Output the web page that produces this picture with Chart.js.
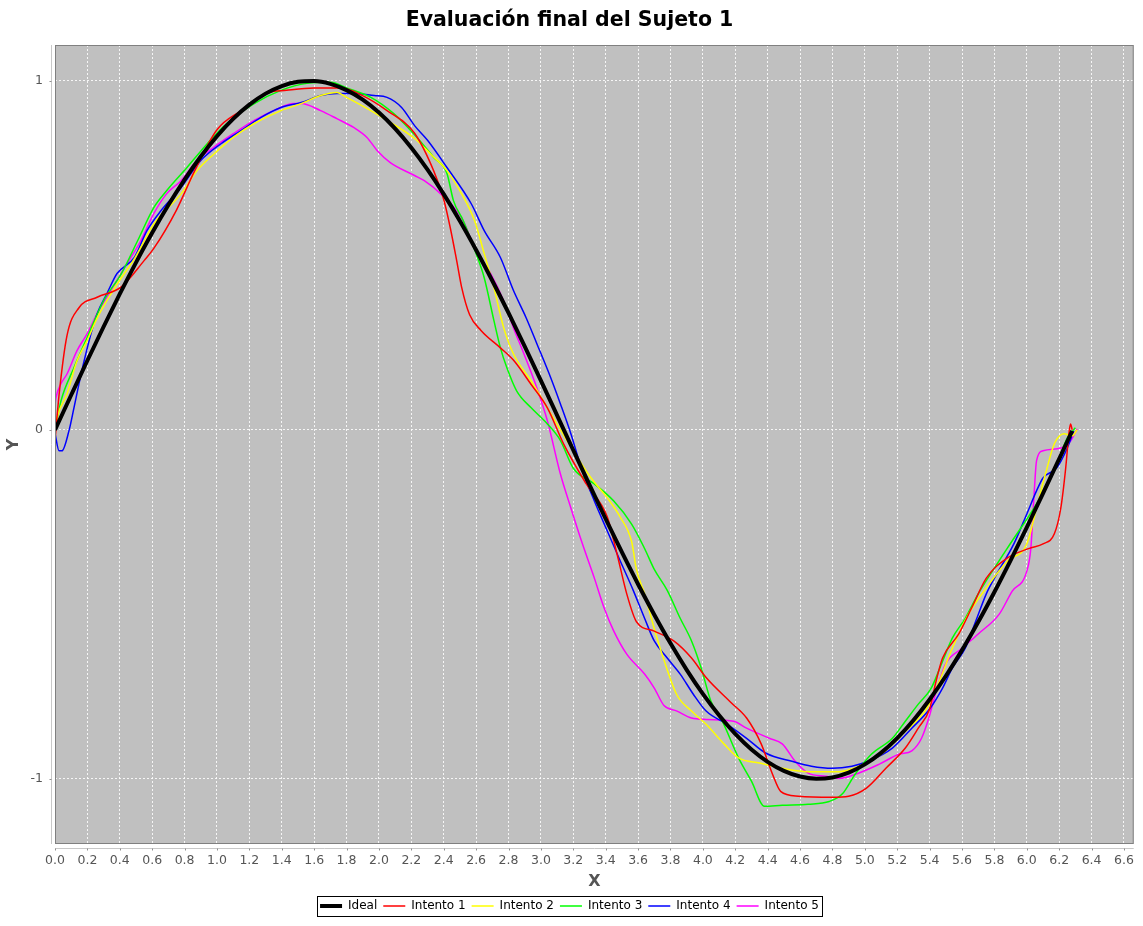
<!DOCTYPE html>
<html>
<head>
<meta charset="utf-8">
<title>Evaluación final del Sujeto 1</title>
<script src="https://cdn.jsdelivr.net/npm/chart.js@4.4.1/dist/chart.umd.min.js"></script>
<style>
  html, body { margin: 0; padding: 0; background: #fff; }
</style>
</head>
<body>
<canvas id="evaluacion" width="1143" height="926"></canvas>
<script>
// Curva ideal y los cinco intentos del sujeto, pares [x, y]
const ideal = [[0,0],[0.1,0.0998],[0.2,0.1987],[0.3,0.2955],[0.4,0.3894],[0.5,0.4794],[0.6,0.5646],[0.7,0.6442],[0.8,0.7174],[0.9,0.7833],[1.0,0.8415],[1.1,0.8912],[1.2,0.932],[1.3,0.9636],[1.4,0.9854],[1.5,0.9975],[1.6,0.9996],[1.7,0.9917],[1.8,0.9738],[1.9,0.9463],[2.0,0.9093],[2.1,0.8632],[2.2,0.8085],[2.3,0.7457],[2.4,0.6755],[2.5,0.5985],[2.6,0.5155],[2.7,0.4274],[2.8,0.335],[2.9,0.2392],[3.0,0.1411],[3.1,0.0416],[3.2,-0.0584],[3.3,-0.1577],[3.4,-0.2555],[3.5,-0.3508],[3.6,-0.4425],[3.7,-0.5298],[3.8,-0.6119],[3.9,-0.6878],[4.0,-0.7568],[4.1,-0.8183],[4.2,-0.8716],[4.3,-0.9162],[4.4,-0.9516],[4.5,-0.9775],[4.6,-0.9937],[4.7,-0.9999],[4.8,-0.9962],[4.9,-0.9825],[5.0,-0.9589],[5.1,-0.9258],[5.2,-0.8835],[5.3,-0.8323],[5.4,-0.7728],[5.5,-0.7055],[5.6,-0.6313],[5.7,-0.5507],[5.8,-0.4646],[5.9,-0.3739],[6.0,-0.2794],[6.1,-0.1822],[6.2,-0.0831],[6.28,-0.0032]];

const intento1 = [[0,-0.03],[0.025,0.10],[0.074,0.27],[0.148,0.35],[0.26,0.38],[0.41,0.41],[0.55,0.485],[0.61,0.52],[0.75,0.63],[0.86,0.74],[1.0,0.86],[1.15,0.915],[1.31,0.965],[1.43,0.973],[1.60,0.98],[1.77,0.98],[1.89,0.96],[2.05,0.915],[2.22,0.85],[2.34,0.74],[2.40,0.66],[2.44,0.58],[2.48,0.485],[2.51,0.41],[2.56,0.33],[2.63,0.285],[2.75,0.235],[2.83,0.20],[2.94,0.13],[3.04,0.063],[3.14,-0.04],[3.28,-0.155],[3.41,-0.25],[3.47,-0.356],[3.53,-0.47],[3.59,-0.55],[3.70,-0.577],[3.82,-0.605],[3.93,-0.654],[4.02,-0.71],[4.17,-0.78],[4.27,-0.826],[4.36,-0.90],[4.43,-0.987],[4.48,-1.036],[4.59,-1.05],[4.80,-1.053],[4.90,-1.05],[5.01,-1.027],[5.13,-0.97],[5.25,-0.912],[5.33,-0.855],[5.40,-0.80],[5.44,-0.72],[5.48,-0.654],[5.58,-0.585],[5.66,-0.51],[5.75,-0.425],[5.88,-0.367],[6.02,-0.339],[6.10,-0.327],[6.17,-0.298],[6.21,-0.224],[6.24,-0.11],[6.26,-0.01],[6.27,0.017],[6.28,0.0]];

const intento2 = [[0,0],[0.012,0.034],[0.074,0.103],[0.136,0.198],[0.198,0.255],[0.26,0.32],[0.346,0.39],[0.41,0.436],[0.49,0.49],[0.61,0.59],[0.78,0.677],[0.877,0.743],[0.98,0.79],[1.10,0.838],[1.23,0.878],[1.395,0.915],[1.52,0.935],[1.64,0.958],[1.74,0.967],[1.80,0.953],[1.95,0.915],[2.05,0.887],[2.22,0.835],[2.32,0.79],[2.42,0.743],[2.51,0.677],[2.59,0.60],[2.65,0.505],[2.71,0.407],[2.77,0.293],[2.83,0.218],[2.94,0.14],[3.04,0.063],[3.16,-0.03],[3.31,-0.138],[3.41,-0.195],[3.49,-0.25],[3.56,-0.32],[3.59,-0.40],[3.64,-0.47],[3.70,-0.57],[3.76,-0.66],[3.84,-0.76],[3.93,-0.806],[4.02,-0.844],[4.13,-0.90],[4.22,-0.94],[4.35,-0.955],[4.49,-0.97],[4.65,-0.98],[4.84,-0.98],[4.96,-0.965],[5.10,-0.93],[5.25,-0.864],[5.38,-0.80],[5.46,-0.72],[5.54,-0.626],[5.64,-0.528],[5.75,-0.453],[5.88,-0.376],[6.00,-0.327],[6.06,-0.224],[6.12,-0.118],[6.17,-0.04],[6.23,-0.011],[6.28,-0.017],[6.31,0.0]];

const intento3 = [[0,0],[0.037,0.083],[0.117,0.178],[0.198,0.264],[0.30,0.37],[0.41,0.448],[0.51,0.542],[0.61,0.637],[0.69,0.686],[0.815,0.752],[0.94,0.82],[1.06,0.878],[1.23,0.935],[1.395,0.973],[1.555,0.993],[1.70,0.996],[1.80,0.98],[1.95,0.953],[2.09,0.907],[2.22,0.846],[2.34,0.78],[2.42,0.735],[2.46,0.657],[2.52,0.60],[2.60,0.505],[2.65,0.436],[2.71,0.313],[2.75,0.235],[2.79,0.178],[2.85,0.112],[2.94,0.063],[3.04,0.017],[3.12,-0.03],[3.20,-0.11],[3.33,-0.155],[3.45,-0.204],[3.56,-0.27],[3.64,-0.34],[3.70,-0.40],[3.78,-0.46],[3.86,-0.54],[3.93,-0.605],[3.99,-0.683],[4.05,-0.778],[4.12,-0.835],[4.22,-0.94],[4.30,-1.007],[4.38,-1.079],[4.49,-1.076],[4.65,-1.073],[4.78,-1.065],[4.86,-1.044],[4.94,-0.987],[5.04,-0.93],[5.17,-0.884],[5.25,-0.835],[5.33,-0.786],[5.41,-0.74],[5.48,-0.663],[5.54,-0.597],[5.62,-0.54],[5.70,-0.47],[5.88,-0.339],[6.06,-0.212],[6.17,-0.118],[6.25,-0.023],[6.30,0.006]];

const intento4 = [[0,-0.01],[0.025,-0.06],[0.043,-0.06],[0.086,-0.003],[0.117,0.063],[0.148,0.132],[0.18,0.198],[0.222,0.275],[0.26,0.333],[0.32,0.39],[0.383,0.448],[0.49,0.494],[0.568,0.571],[0.654,0.628],[0.778,0.694],[0.90,0.772],[1.025,0.82],[1.15,0.858],[1.27,0.895],[1.395,0.924],[1.52,0.938],[1.64,0.958],[1.74,0.964],[1.85,0.964],[1.97,0.958],[2.05,0.953],[2.14,0.924],[2.22,0.872],[2.30,0.83],[2.42,0.752],[2.57,0.648],[2.65,0.571],[2.75,0.494],[2.83,0.40],[2.91,0.32],[2.975,0.247],[3.06,0.15],[3.12,0.075],[3.185,-0.011],[3.25,-0.11],[3.33,-0.204],[3.41,-0.29],[3.49,-0.376],[3.57,-0.46],[3.64,-0.54],[3.70,-0.605],[3.78,-0.654],[3.86,-0.70],[3.94,-0.757],[4.02,-0.806],[4.15,-0.844],[4.27,-0.884],[4.39,-0.927],[4.55,-0.95],[4.67,-0.964],[4.80,-0.97],[4.92,-0.964],[5.02,-0.95],[5.17,-0.912],[5.29,-0.855],[5.40,-0.80],[5.48,-0.74],[5.54,-0.683],[5.62,-0.626],[5.685,-0.548],[5.75,-0.47],[5.80,-0.425],[5.92,-0.327],[6.00,-0.241],[6.06,-0.175],[6.10,-0.138],[6.185,-0.109],[6.25,-0.052],[6.29,-0.003]];

const intento5 = [[0,0.07],[0.006,0.092],[0.037,0.132],[0.074,0.16],[0.136,0.227],[0.198,0.275],[0.26,0.333],[0.346,0.40],[0.444,0.476],[0.53,0.542],[0.61,0.62],[0.69,0.677],[0.778,0.714],[0.877,0.772],[0.98,0.81],[1.105,0.85],[1.23,0.887],[1.35,0.915],[1.475,0.935],[1.52,0.935],[1.64,0.915],[1.74,0.892],[1.846,0.866],[1.926,0.838],[1.99,0.80],[2.07,0.766],[2.22,0.729],[2.28,0.714],[2.38,0.677],[2.51,0.608],[2.60,0.514],[2.69,0.448],[2.77,0.37],[2.83,0.293],[2.895,0.218],[2.975,0.12],[3.04,0.026],[3.12,-0.126],[3.185,-0.224],[3.25,-0.318],[3.33,-0.425],[3.39,-0.51],[3.45,-0.577],[3.53,-0.643],[3.64,-0.70],[3.70,-0.74],[3.76,-0.79],[3.84,-0.806],[3.93,-0.826],[4.02,-0.83],[4.19,-0.835],[4.27,-0.855],[4.41,-0.884],[4.49,-0.90],[4.57,-0.95],[4.65,-0.984],[4.76,-0.993],[4.84,-0.999],[4.96,-0.984],[5.09,-0.958],[5.21,-0.93],[5.29,-0.92],[5.35,-0.884],[5.395,-0.826],[5.44,-0.75],[5.50,-0.67],[5.60,-0.626],[5.70,-0.585],[5.83,-0.528],[5.91,-0.462],[6.00,-0.405],[6.025,-0.339],[6.04,-0.224],[6.05,-0.146],[6.06,-0.089],[6.10,-0.06],[6.21,-0.052],[6.27,-0.032],[6.31,0.003]];

const seriesNames = ["Ideal", "Intento 1", "Intento 2", "Intento 3", "Intento 4", "Intento 5"];
const seriesData = [ideal, intento1, intento2, intento3, intento4, intento5];
const seriesColors = ["#000000", "#ff0000", "#ffff00", "#00ff00", "#0000ff", "#ff00ff"];

// rango de ejes
const xRange = [0, 6.66];
const yRange = [-1.187, 1.103];
const xStep = 0.2;
const yStep = 1;

const FONT = "'DejaVu Sans', sans-serif";

// fondo gris del área de trazado, marco y líneas de eje separadas
const plotFrame = {
  id: "plotFrame",
  beforeDraw(chart) {
    const { ctx, chartArea: a } = chart;
    ctx.save();
    ctx.fillStyle = "#c0c0c0";
    ctx.fillRect(a.left, a.top, a.right - a.left, a.bottom - a.top);
    ctx.restore();
  },
  afterDraw(chart) {
    const { ctx, chartArea: a, scales } = chart;
    ctx.save();
    ctx.strokeStyle = "#808080";
    ctx.lineWidth = 1;
    ctx.strokeRect(a.left + 0.5, a.top + 0.5, a.right - a.left - 1, a.bottom - a.top - 1);

    // eje X un poco separado del área
    const yAxisLine = a.bottom + 4.5;
    ctx.strokeStyle = "#c8c8c8";
    ctx.beginPath();
    ctx.moveTo(a.left, yAxisLine);
    ctx.lineTo(a.right, yAxisLine);
    ctx.stroke();
    ctx.strokeStyle = "#909090";
    scales.x.ticks.forEach((t) => {
      const px = Math.round(scales.x.getPixelForValue(t.value)) + 0.5;
      ctx.beginPath();
      ctx.moveTo(px, yAxisLine);
      ctx.lineTo(px, yAxisLine + 2);
      ctx.stroke();
    });

    // eje Y
    const xAxisLine = a.left - 3.5;
    ctx.strokeStyle = "#c8c8c8";
    ctx.beginPath();
    ctx.moveTo(xAxisLine, a.top);
    ctx.lineTo(xAxisLine, a.bottom);
    ctx.stroke();
    ctx.strokeStyle = "#909090";
    scales.y.ticks.forEach((t) => {
      const py = Math.round(scales.y.getPixelForValue(t.value)) + 0.5;
      ctx.beginPath();
      ctx.moveTo(xAxisLine, py);
      ctx.lineTo(xAxisLine - 2, py);
      ctx.stroke();
    });

    // recuadro de la leyenda
    const boxes = chart.legend.legendHitBoxes;
    if (boxes && boxes.length) {
      const left = Math.min(...boxes.map((b) => b.left)) - 3;
      const right = Math.max(...boxes.map((b) => b.left + b.width)) + 3;
      const top = Math.min(...boxes.map((b) => b.top)) - 4;
      const bottom = Math.max(...boxes.map((b) => b.top + b.height)) + 4;
      ctx.strokeStyle = "#000";
      ctx.strokeRect(Math.round(left) + 0.5, Math.round(top) + 0.5, Math.round(right - left), Math.round(bottom - top));
    }
    ctx.restore();
  },
};

const ctx = document.getElementById("evaluacion").getContext("2d");
new Chart(ctx, {
  type: "line",
  data: {
    datasets: seriesNames.map((name, i) => ({
      label: name,
      data: seriesData[i].map(([x, y]) => ({ x, y })),
      borderColor: seriesColors[i],
      backgroundColor: seriesColors[i],
      borderWidth: i === 0 ? 4 : 1.5,
      pointRadius: 0,
      cubicInterpolationMode: "monotone",
      fill: false,
    })),
  },
  options: {
    responsive: false,
    animation: false,
    layout: { padding: { left: 4, right: 8, top: 0, bottom: 4 } },
    scales: {
      x: {
        type: "linear",
        min: xRange[0],
        max: xRange[1],
        afterFit: (scale) => { scale.height = 50; },
        ticks: {
          stepSize: xStep,
          includeBounds: false,
          autoSkip: false,
          maxRotation: 0,
          padding: 9,
          color: "#555",
          font: { family: FONT, size: 12.5 },
          callback: (v) => Number(v).toFixed(1),
        },
        grid: { color: "rgba(255,255,255,0.85)", lineWidth: 1, drawTicks: false },
        border: { display: false, dash: [2, 2] },
        title: {
          display: true,
          text: "X",
          color: "#555",
          font: { family: FONT, size: 16, weight: "bold" },
          padding: { top: 0, bottom: 3 },
        },
      },
      y: {
        type: "linear",
        min: yRange[0],
        max: yRange[1],
        afterFit: (scale) => { scale.width = 51; },
        ticks: {
          stepSize: yStep,
          includeBounds: false,
          padding: 12,
          color: "#555",
          font: { family: FONT, size: 12.5 },
          callback: (v) => String(v),
        },
        grid: { color: "rgba(255,255,255,0.85)", lineWidth: 1, drawTicks: false },
        border: { display: false, dash: [2, 2] },
        title: {
          display: true,
          text: "Y",
          color: "#555",
          font: { family: FONT, size: 16, weight: "bold" },
          padding: { top: 0, bottom: 0 },
        },
      },
    },
    plugins: {
      title: {
        display: true,
        text: "Evaluación final del Sujeto 1",
        color: "#000",
        font: { family: FONT, size: 20.5, weight: "bold" },
        padding: { top: 8, bottom: 12.4 },
      },
      legend: {
        position: "bottom",
        labels: {
          usePointStyle: true,
          pointStyle: "line",
          pointStyleWidth: 22,
          color: "#000",
          font: { family: FONT, size: 12 },
          padding: 6,
        },
      },
      tooltip: { enabled: false },
    },
  },
  plugins: [plotFrame],
});
</script>
</body>
</html>
